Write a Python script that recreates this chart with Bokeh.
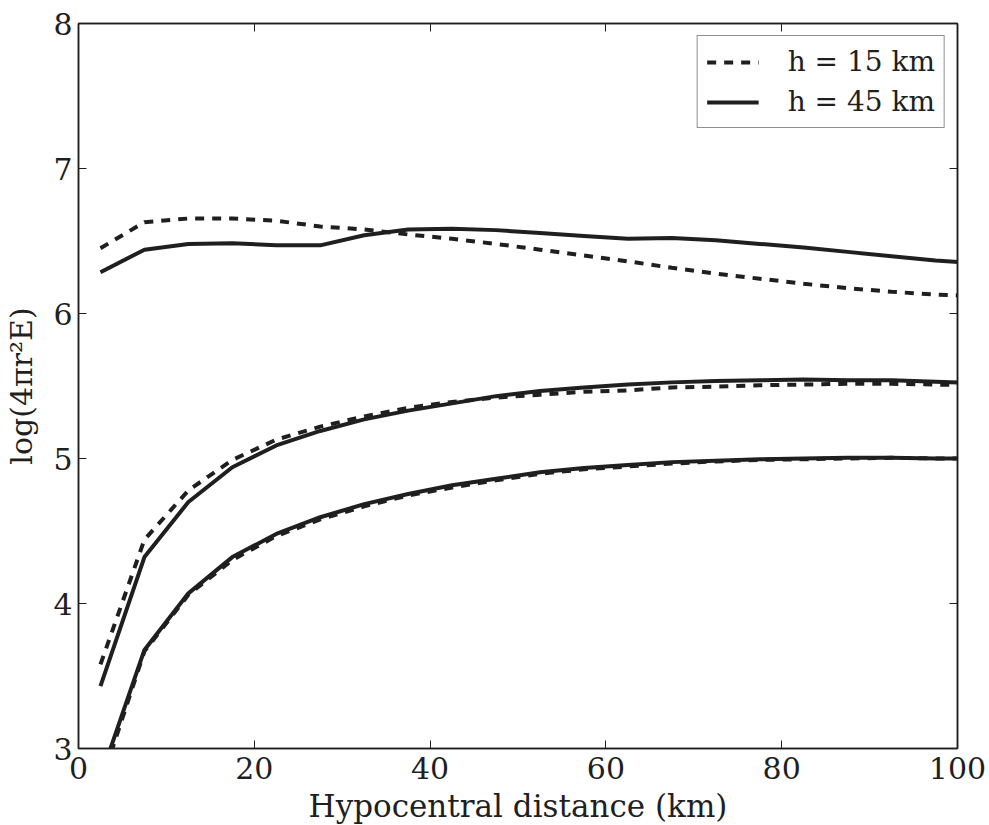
from bokeh.plotting import figure
from bokeh.models import LinearAxis, Range1d, Legend, LegendItem, FixedTicker, CustomJSTickFormatter
from bokeh.embed import file_html
from bokeh.resources import INLINE

# hypocentral distance (km), bin centres
dist = [2.5, 7.5, 12.5, 17.5, 22.5, 27.5, 32.5, 37.5, 42.5, 47.5, 52.5,
        57.5, 62.5, 67.5, 72.5, 77.5, 82.5, 87.5, 92.5, 97.5, 102.5]

# upper pair
top_h15 = [6.45, 6.63, 6.655, 6.655, 6.64, 6.60, 6.58, 6.545, 6.515, 6.48, 6.44,
           6.40, 6.36, 6.315, 6.275, 6.24, 6.205, 6.175, 6.15, 6.13, 6.12]
top_h45 = [6.285, 6.44, 6.48, 6.485, 6.47, 6.47, 6.54, 6.58, 6.585, 6.575, 6.555,
           6.535, 6.515, 6.52, 6.505, 6.48, 6.455, 6.425, 6.395, 6.365, 6.345]

# middle pair
mid_h15 = [3.58, 4.44, 4.78, 4.99, 5.13, 5.22, 5.29, 5.35, 5.39, 5.42, 5.44,
           5.46, 5.47, 5.49, 5.495, 5.505, 5.51, 5.515, 5.515, 5.51, 5.505]
mid_h45 = [3.43, 4.32, 4.70, 4.94, 5.09, 5.19, 5.27, 5.33, 5.38, 5.43, 5.465,
           5.49, 5.51, 5.525, 5.535, 5.54, 5.545, 5.54, 5.54, 5.53, 5.52]

# lower pair
low_h15 = [2.75, 3.67, 4.06, 4.30, 4.465, 4.58, 4.67, 4.745, 4.80, 4.85, 4.895,
           4.925, 4.945, 4.965, 4.98, 4.99, 4.995, 5.0, 5.005, 5.0, 5.0]
low_h45 = [2.80, 3.68, 4.07, 4.32, 4.48, 4.595, 4.685, 4.755, 4.815, 4.86, 4.905,
           4.935, 4.955, 4.975, 4.985, 4.995, 5.0, 5.005, 5.005, 5.0, 5.0]

x_ticks = [0, 20, 40, 60, 80, 100]
y_ticks = [3, 4, 5, 6, 7, 8]

FONT = "DejaVu Serif"
INK = "#1f1f1f"

p = figure(frame_width=879, frame_height=725,
           x_range=Range1d(0, 100), y_range=Range1d(3, 8),
           output_backend="svg", toolbar_location=None,
           min_border_left=78, min_border_right=30,
           min_border_top=23, min_border_bottom=76,
           background_fill_color="white", border_fill_color="white")
p.grid.visible = False
p.outline_line_color = INK
p.outline_line_width = 1.5

for ax, ticks in ((p.xaxis[0], x_ticks), (p.yaxis[0], y_ticks)):
    ax.ticker = FixedTicker(ticks=ticks)
    ax.major_tick_in = 8
    ax.major_tick_out = 0
    ax.minor_tick_in = 0
    ax.minor_tick_out = 0
    ax.axis_line_color = INK
    ax.axis_line_width = 1.5
    ax.major_tick_line_color = INK
    ax.major_label_text_font = FONT
    ax.major_label_text_font_size = "30px"
    ax.major_label_text_color = INK
    ax.axis_label_text_font = FONT
    ax.axis_label_text_font_style = "normal"
    ax.axis_label_text_color = INK

p.xaxis[0].axis_label = "Hypocentral distance (km)"
p.xaxis[0].axis_label_text_font_size = "31px"
p.xaxis[0].major_label_standoff = 8
p.xaxis[0].axis_label_standoff = 6
p.yaxis[0].axis_label = "log(4πr²E)"
p.yaxis[0].axis_label_text_font_size = "30px"
p.yaxis[0].major_label_standoff = 6
p.yaxis[0].axis_label_standoff = 11

# tick marks on top and right sides (no labels)
blank = CustomJSTickFormatter(code="return ''")
for loc, ticks in (("above", x_ticks), ("right", y_ticks)):
    a = LinearAxis(ticker=FixedTicker(ticks=ticks), formatter=blank)
    a.major_tick_in = 8
    a.major_tick_out = 0
    a.minor_tick_in = 0
    a.minor_tick_out = 0
    a.axis_line_color = INK
    a.axis_line_width = 1.5
    a.major_tick_line_color = INK
    a.major_label_standoff = 0
    p.add_layout(a, loc)

DASH = "9 8"
LW = 4
r15 = []
r45 = []
for ys15, ys45 in ((top_h15, top_h45), (mid_h15, mid_h45), (low_h15, low_h45)):
    r45.append(p.line(dist, ys45, line_color=INK, line_width=LW))
    r15.append(p.line(dist, ys15, line_color=INK, line_width=LW, line_dash=DASH))

legend = Legend(items=[LegendItem(label="h = 15 km", renderers=[r15[0]]),
                       LegendItem(label="h = 45 km", renderers=[r45[0]])],
                location="top_right")
legend.margin = 12
legend.padding = 9
legend.spacing = 7
legend.glyph_width = 52
legend.glyph_height = 28
legend.label_height = 28
legend.label_standoff = 29
legend.label_text_font = FONT
legend.label_text_font_size = "28px"
legend.label_text_color = INK
legend.border_line_color = INK
legend.border_line_width = 1.5
legend.background_fill_color = "white"
legend.background_fill_alpha = 1
p.add_layout(legend, "center")

open("out.html", "w").write(file_html(p, INLINE))
